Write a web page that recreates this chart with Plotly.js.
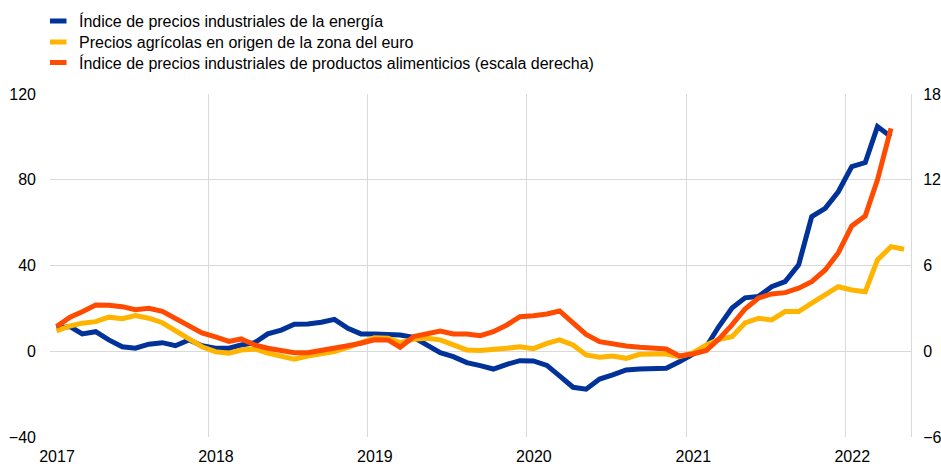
<!DOCTYPE html>
<html>
<head>
<meta charset="utf-8">
<script src="https://cdn.plot.ly/plotly-3.0.1.min.js"></script>
<style>html,body{margin:0;padding:0;background:#fff;}#chart{width:941px;height:464px;}</style>
</head>
<body>
<div id="chart"></div>
<script>
const months = [
 "2017-01","2017-02","2017-03","2017-04","2017-05","2017-06","2017-07","2017-08","2017-09","2017-10","2017-11","2017-12",
 "2018-01","2018-02","2018-03","2018-04","2018-05","2018-06","2018-07","2018-08","2018-09","2018-10","2018-11","2018-12",
 "2019-01","2019-02","2019-03","2019-04","2019-05","2019-06","2019-07","2019-08","2019-09","2019-10","2019-11","2019-12",
 "2020-01","2020-02","2020-03","2020-04","2020-05","2020-06","2020-07","2020-08","2020-09","2020-10","2020-11","2020-12",
 "2021-01","2021-02","2021-03","2021-04","2021-05","2021-06","2021-07","2021-08","2021-09","2021-10","2021-11","2021-12",
 "2022-01","2022-02","2022-03","2022-04","2022-05"
];

const seriesNames = [
 "Índice de precios industriales de la energía",
 "Precios agrícolas en origen de la zona del euro",
 "Índice de precios industriales de productos alimenticios (escala derecha)"
];

// left axis (%)
const energy = [
 10.7, 11.5, 8.1, 9.1, 5.3, 2.1, 1.4, 3.3, 4.0, 2.6, 5.3, 2.6,
 1.4, 1.4, 2.9, 4.0, 8.1, 9.9, 12.6, 12.7, 13.5, 14.9, 10.7, 8.1,
 8.1, 7.9, 7.6, 6.5, 2.9, -0.7, -2.5, -5.3, -6.7, -8.3, -6.1, -4.4,
 -4.5, -6.6, -11.5, -16.8, -17.7, -13.0, -11.0, -8.7, -8.3, -7.9, -7.9, -4.9,
 -1.7, 2.1, 11.3, 20.2, 24.9, 25.6, 30.1, 32.5, 40.3, 62.8, 66.7, 74.4,
 86.1, 88.0, 104.8, 100.1
];

// left axis (%)
const agri = [
 9.5, 11.8, 13.1, 13.8, 15.9, 15.2, 16.6, 15.4, 13.3, 9.6, 5.4, 2.1,
 -0.2, -0.9, 0.6, 1.1, -0.9, -2.2, -3.7, -2.2, -1.2, -0.2, 1.8, 4.0,
 6.3, 6.1, 4.0, 5.6, 6.1, 5.3, 2.9, 0.6, 0.3, 0.6, 1.4, 2.1,
 1.2, 3.7, 5.3, 2.9, -1.7, -2.8, -2.2, -3.3, -1.4, -1.3, -1.3, -2.5,
 -0.8, 2.9, 5.5, 6.8, 13.2, 15.4, 14.6, 18.5, 18.5, 22.4, 26.3, 30.1,
 28.6, 27.8, 42.6, 48.8, 47.6
];

// right axis (%)
const food = [
 1.72, 2.38, 2.77, 3.24, 3.22, 3.12, 2.91, 3.01, 2.79, 2.30, 1.84, 1.28,
 1.00, 0.69, 0.86, 0.44, 0.21, 0.02, -0.10, -0.10, 0.09, 0.28, 0.39, 0.56,
 0.80, 0.79, 0.28, 1.02, 1.21, 1.42, 1.21, 1.21, 1.09, 1.37, 1.84, 2.42,
 2.49, 2.61, 2.82, 1.95, 1.18, 0.67, 0.49, 0.37, 0.28, 0.25, 0.16, -0.33,
 -0.19, 0.06, 0.83, 1.84, 2.96, 3.73, 4.01, 4.10, 4.41, 4.87, 5.69, 6.88,
 8.77, 9.47, 11.99, 15.60
];

const colors = ["#003299", "#FFB400", "#FF4B00"];
const FONT = "Liberation Sans, Arial, sans-serif";
const FS = 16;

const xs = months.map(m => m + "-16");

const traces = [
 {x: xs.slice(0, energy.length), y: energy, name: seriesNames[0], type: "scatter", mode: "lines",
  line: {color: colors[0], width: 5}, yaxis: "y"},
 {x: xs.slice(0, agri.length), y: agri, name: seriesNames[1], type: "scatter", mode: "lines",
  line: {color: colors[1], width: 5}, yaxis: "y"},
 {x: xs.slice(0, food.length), y: food, name: seriesNames[2], type: "scatter", mode: "lines",
  line: {color: colors[2], width: 5}, yaxis: "y2"}
];

const M = {l: 50, r: 30, t: 94, b: 27};
const W = 941, H = 464;
const pw = W - M.l - M.r, ph = H - M.t - M.b;
const px2x = px => (px - M.l) / pw;
const py2y = py => 1 + (M.t - py) / ph;

const legendRows = [21, 42, 62.5];
const annotations = seriesNames.map((n, i) => ({
 xref: "paper", yref: "paper", x: px2x(77), y: py2y(legendRows[i]),
 xanchor: "left", yanchor: "middle", showarrow: false, text: n,
 font: {family: FONT, size: FS, color: "#000"}
}));
const shapes = seriesNames.map((n, i) => ({
 type: "rect", xref: "paper", yref: "paper",
 x0: px2x(50), x1: px2x(66.5),
 y0: py2y(legendRows[i] + 2.5), y1: py2y(legendRows[i] - 2.5),
 fillcolor: colors[i], line: {width: 0}
}));

const layout = {
 width: W, height: H, margin: M,
 paper_bgcolor: "#fff", plot_bgcolor: "#fff",
 showlegend: false,
 font: {family: FONT, size: FS, color: "#000"},
 xaxis: {
  type: "date", range: ["2017-01-01", "2022-06-01"],
  tick0: "2017-01-01", dtick: "M12", tickformat: "%Y",
  ticklabelshift: 7, ticklabelstandoff: 8, showgrid: true, gridcolor: "#d9d9d9", gridwidth: 1,
  zeroline: false, showline: false, ticks: "",
  tickfont: {family: FONT, size: FS, color: "#000"}
 },
 yaxis: {
  range: [-40, 120], tick0: -40, dtick: 40, showgrid: true, gridcolor: "#d9d9d9",
  zeroline: false, showline: false, ticks: "", ticklabelstandoff: 13,
  tickfont: {family: FONT, size: FS, color: "#000"}
 },
 yaxis2: {
  overlaying: "y", side: "right", range: [-6, 18], tick0: -6, dtick: 6,
  showgrid: false, zeroline: false, showline: true, linecolor: "#d9d9d9", linewidth: 1,
  ticks: "", ticklabelstandoff: 8,
  tickfont: {family: FONT, size: FS, color: "#000"}
 },
 annotations: annotations,
 shapes: shapes
};

Plotly.newPlot("chart", traces, layout, {displayModeBar: false, staticPlot: true});
</script>
</body>
</html>
